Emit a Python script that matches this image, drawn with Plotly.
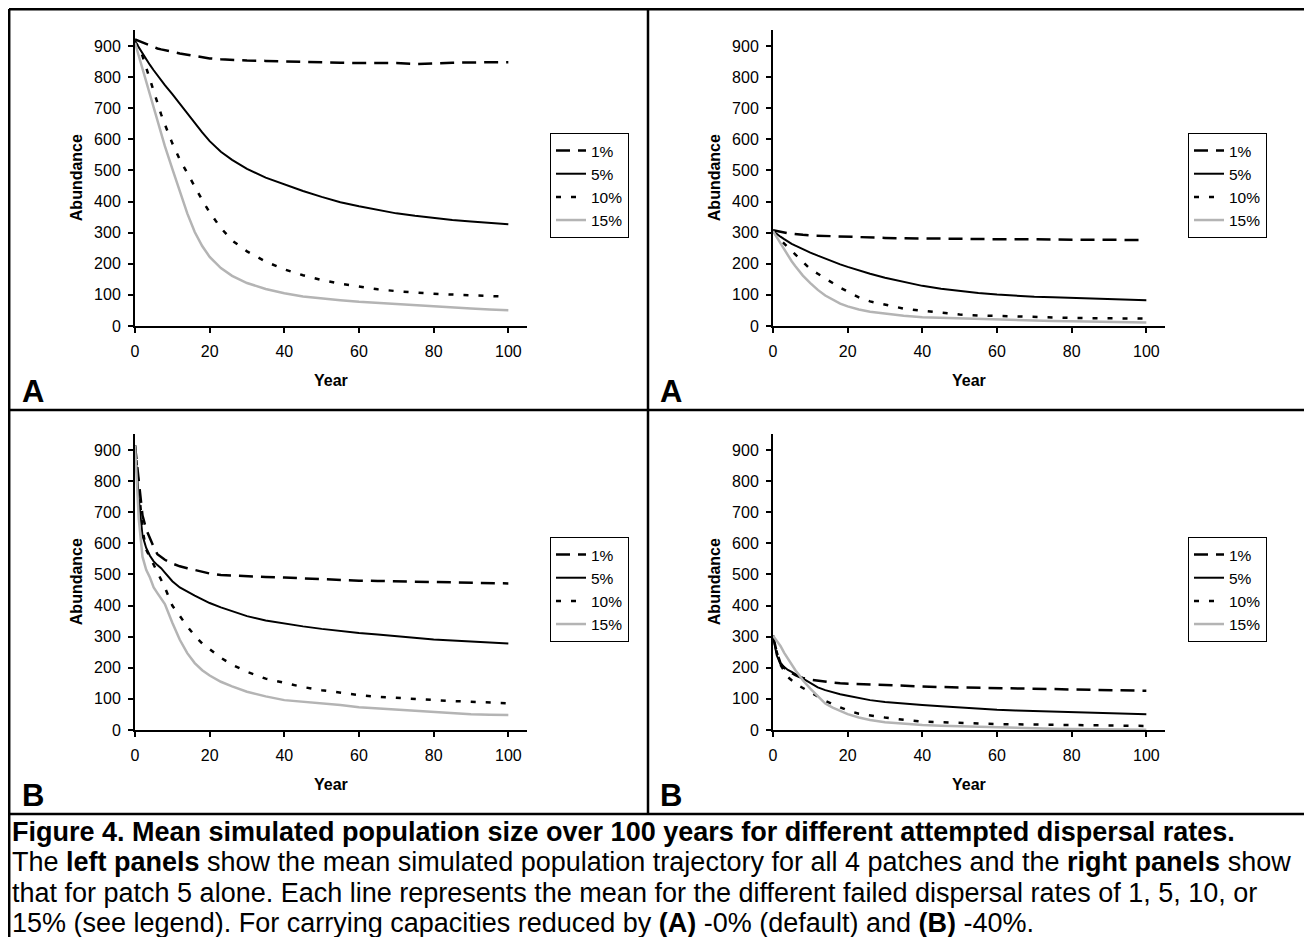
import plotly.graph_objects as go

# The page body has an 8px margin, so the figure is drawn 8px in from the
# top-left corner of the 1312x937 window.  Layout positions below are given in
# window pixels and converted to paper coordinates.
OFF = 8
W, H = 1312 - OFF, 937 - OFF

# ---------------- data ----------------
YEARS = [0, 1, 2, 3, 4, 5, 6, 7, 8, 10, 12, 14, 16, 18, 20, 23, 26, 30, 35, 40,
         45, 50, 55, 60, 65, 70, 75, 80, 85, 90, 95, 100]

RATES = ["1%", "5%", "10%", "15%"]

# (A) -0%, all 4 patches (top left)
A_ALL_1 = [921, 916, 911, 905, 900, 895, 892, 889, 886, 880, 876, 872, 868, 864, 860, 857,
           855, 853, 852, 850, 848, 847, 846, 845, 845, 845, 842, 845, 846, 847, 847, 848]
A_ALL_5 = [915, 895, 876, 857, 839, 822, 805, 789, 774, 745, 714, 683, 652, 622, 594, 560,
           534, 505, 477, 455, 434, 415, 398, 385, 373, 362, 354, 347, 341, 336, 332, 327]
A_ALL_10 = [915, 895, 868, 830, 792, 752, 715, 680, 648, 587, 535, 490, 448, 405, 365, 315,
            275, 240, 207, 182, 163, 148, 136, 126, 118, 112, 107, 104, 101, 98, 96, 94]
A_ALL_15 = [910, 868, 825, 783, 740, 697, 656, 616, 578, 505, 430, 362, 302, 257, 222, 186,
            161, 138, 119, 105, 95, 88, 83, 78, 74, 71, 67, 64, 60, 56, 53, 51]

# (A) -0%, patch 5 (top right)
A_P5_1 = [308, 305, 302, 300, 298, 297, 295, 294, 293, 291, 290, 289, 288, 287, 287, 285,
          284, 283, 282, 281, 280, 280, 279, 279, 279, 278, 278, 278, 277, 277, 276, 276]
A_P5_5 = [305, 295, 287, 279, 271, 264, 258, 252, 246, 236, 226, 216, 206, 198, 190, 178,
          168, 155, 141, 129, 120, 112, 106, 101, 97, 94, 92, 90, 88, 86, 84, 83]
A_P5_10 = [305, 290, 277, 265, 253, 240, 228, 217, 205, 183, 168, 152, 138, 123, 110, 92,
           79, 69, 56, 49, 43, 37, 34, 32, 30, 28, 27, 26, 25, 25, 24, 24]
A_P5_15 = [305, 285, 265, 245, 225, 208, 192, 176, 162, 138, 116, 98, 84, 72, 63, 53,
           46, 40, 33, 28, 26, 24, 22, 21, 19, 18, 16, 15, 14, 13, 12, 11]

# (B) -40%, all 4 patches (bottom left)
B_ALL_1 = [915, 800, 690, 645, 615, 588, 565, 555, 547, 535, 526, 520, 514, 507, 503, 498,
           496, 494, 492, 490, 487, 485, 483, 480, 479, 478, 476, 475, 474, 473, 472, 471]
B_ALL_5 = [915, 745, 625, 585, 560, 542, 530, 520, 506, 478, 458, 444, 432, 420, 408, 394,
           381, 366, 352, 342, 333, 325, 318, 312, 307, 301, 296, 291, 288, 285, 282, 278]
B_ALL_10 = [915, 770, 645, 580, 555, 535, 510, 485, 458, 400, 365, 333, 303, 278, 260, 232,
            210, 187, 165, 152, 138, 128, 120, 112, 107, 103, 99, 96, 93, 91, 88, 86]
B_ALL_15 = [915, 680, 557, 515, 490, 458, 440, 423, 405, 345, 290, 247, 215, 192, 175, 155,
            140, 123, 108, 96, 91, 86, 80, 73, 69, 65, 62, 59, 55, 51, 49, 48]

# (B) -40%, patch 5 (bottom right)
B_P5_1 = [303, 250, 215, 200, 190, 182, 176, 171, 167, 162, 158, 155, 152, 150, 149, 147,
          145, 143, 141, 140, 138, 137, 135, 134, 132, 131, 130, 129, 128, 128, 127, 126]
B_P5_5 = [303, 240, 212, 201, 193, 187, 180, 173, 165, 150, 137, 128, 121, 115, 110, 103,
          96, 90, 84, 80, 76, 72, 68, 65, 63, 61, 60, 59, 57, 55, 53, 51]
B_P5_10 = [303, 250, 210, 188, 170, 160, 150, 142, 135, 121, 107, 94, 83, 73, 63, 52,
           46, 40, 33, 27, 25, 22, 21, 19, 18, 17, 16, 15, 15, 14, 13, 13]
B_P5_15 = [303, 287, 270, 248, 228, 210, 192, 177, 160, 133, 108, 85, 72, 62, 51, 40,
           32, 25, 20, 16, 14, 12, 10, 9, 7, 6, 4, 3, 3, 2, 2, 1]

X_TICKS = [0, 20, 40, 60, 80, 100]
Y_TICKS = [0, 100, 200, 300, 400, 500, 600, 700, 800, 900]

PANEL_LETTERS = ["A", "A", "B", "B"]
CAPTION = [
    "<b>Figure 4. Mean simulated population size over 100 years for different attempted dispersal rates.</b>",
    "The <b>left panels</b> show the mean simulated population trajectory for all 4 patches and the <b>right panels</b> show",
    "that for patch 5 alone. Each line represents the mean for the different failed dispersal rates of 1, 5, 10, or",
    "15% (see legend). For carrying capacities reduced by <b>(A)</b> -0% (default) and <b>(B)</b> -40%.",
]

# ---------------- styling ----------------
FONT = "Arial, Liberation Sans, sans-serif"
STYLES = {
    "1%": dict(color="black", width=2.5, dash="14px,8px"),
    "5%": dict(color="black", width=2),
    "10%": dict(color="black", width=2.5, dash="5px,10px"),
    "15%": dict(color="#b4b4b4", width=2.5),
}


def px(x):
    return (x - OFF) / W


def py(y):
    return 1 - (y - OFF) / H


panels = [
    # (series, axis suffix, legend id, window x of y-axis, row offset)
    ([A_ALL_1, A_ALL_5, A_ALL_10, A_ALL_15], "", "legend", 135, 0),
    ([A_P5_1, A_P5_5, A_P5_10, A_P5_15], "2", "legend2", 773, 0),
    ([B_ALL_1, B_ALL_5, B_ALL_10, B_ALL_15], "3", "legend3", 135, 404),
    ([B_P5_1, B_P5_5, B_P5_10, B_P5_15], "4", "legend4", 773, 404),
]

fig = go.Figure()
layout = dict(
    width=W, height=H,
    margin=dict(l=0, r=0, t=0, b=0),
    paper_bgcolor="white", plot_bgcolor="white",
    font=dict(family=FONT, color="black"),
    showlegend=True,
    template="none",
)
annotations = []
shapes = []

for i, (series, sfx, leg, x0, dy) in enumerate(panels):
    xa = "x" + sfx
    ya = "y" + sfx
    for name, vals in zip(RATES, series):
        fig.add_trace(go.Scatter(
            x=YEARS, y=vals, mode="lines", name=name,
            line=STYLES[name], xaxis=xa, yaxis=ya, legend=leg,
            hoverinfo="skip",
        ))
    plot_w = 392
    y_bottom = 326 + dy
    y_top = 30.4 + dy
    axis_common = dict(
        showline=True, linecolor="black", linewidth=2,
        ticks="outside", ticklen=5, tickwidth=2, tickcolor="black",
        showgrid=False, zeroline=False,
        tickfont=dict(family=FONT, size=16, color="black"),
        fixedrange=True,
    )
    layout["xaxis" + sfx] = dict(
        axis_common,
        domain=[px(x0), px(x0 + plot_w)],
        range=[0, 105], tickvals=X_TICKS, ticklabelstandoff=5,
        anchor=ya,
    )
    layout["yaxis" + sfx] = dict(
        axis_common,
        domain=[py(y_bottom), py(y_top)],
        range=[0, 950], tickvals=Y_TICKS, ticklabelstandoff=4,
        anchor=xa,
    )
    layout[leg] = dict(
        x=px(x0 + 415), y=py(133 + dy), xanchor="left", yanchor="top",
        bordercolor="black", borderwidth=1, bgcolor="white",
        font=dict(family=FONT, size=15.5, color="black"),
        tracegroupgap=0, itemwidth=30,
    )
    # axis titles
    annotations.append(dict(
        x=px(x0 - 59), y=py((y_bottom + y_top) / 2), xref="paper", yref="paper",
        text="<b>Abundance</b>", textangle=-90, showarrow=False,
        font=dict(family=FONT, size=16, color="black"),
        xanchor="center", yanchor="middle",
    ))
    annotations.append(dict(
        x=px(x0 + plot_w / 2), y=py(380 + dy), xref="paper", yref="paper",
        text="<b>Year</b>", showarrow=False,
        font=dict(family=FONT, size=16, color="black"),
        xanchor="center", yanchor="middle",
    ))
    # panel letter
    annotations.append(dict(
        x=px(x0 - 115), y=py(391 + dy), xref="paper", yref="paper",
        text="<b>" + PANEL_LETTERS[i] + "</b>", showarrow=False,
        font=dict(family=FONT, size=31, color="black"),
        xanchor="left", yanchor="middle",
    ))

# caption lines
for k, line in enumerate(CAPTION):
    annotations.append(dict(
        x=px(10), y=py(832 + k * 30.3), xref="paper", yref="paper",
        text=line, showarrow=False,
        font=dict(family=FONT, size=27, color="black"),
        xanchor="left", yanchor="middle", align="left",
    ))


# table frame lines
def hline(y, x0=9, x1=1312):
    return dict(type="line", xref="paper", yref="paper", x0=px(x0), x1=px(x1),
                y0=py(y), y1=py(y), line=dict(color="black", width=2.5))


def vline(x, y0, y1):
    return dict(type="line", xref="paper", yref="paper", x0=px(x), x1=px(x),
                y0=py(y0), y1=py(y1), line=dict(color="black", width=2.5))


shapes += [hline(9.2), hline(410), hline(814), vline(9.2, 9, 937), vline(648, 9, 814)]

layout["annotations"] = annotations
layout["shapes"] = shapes
fig.update_layout(**layout)

fig.write_html("out.html")
